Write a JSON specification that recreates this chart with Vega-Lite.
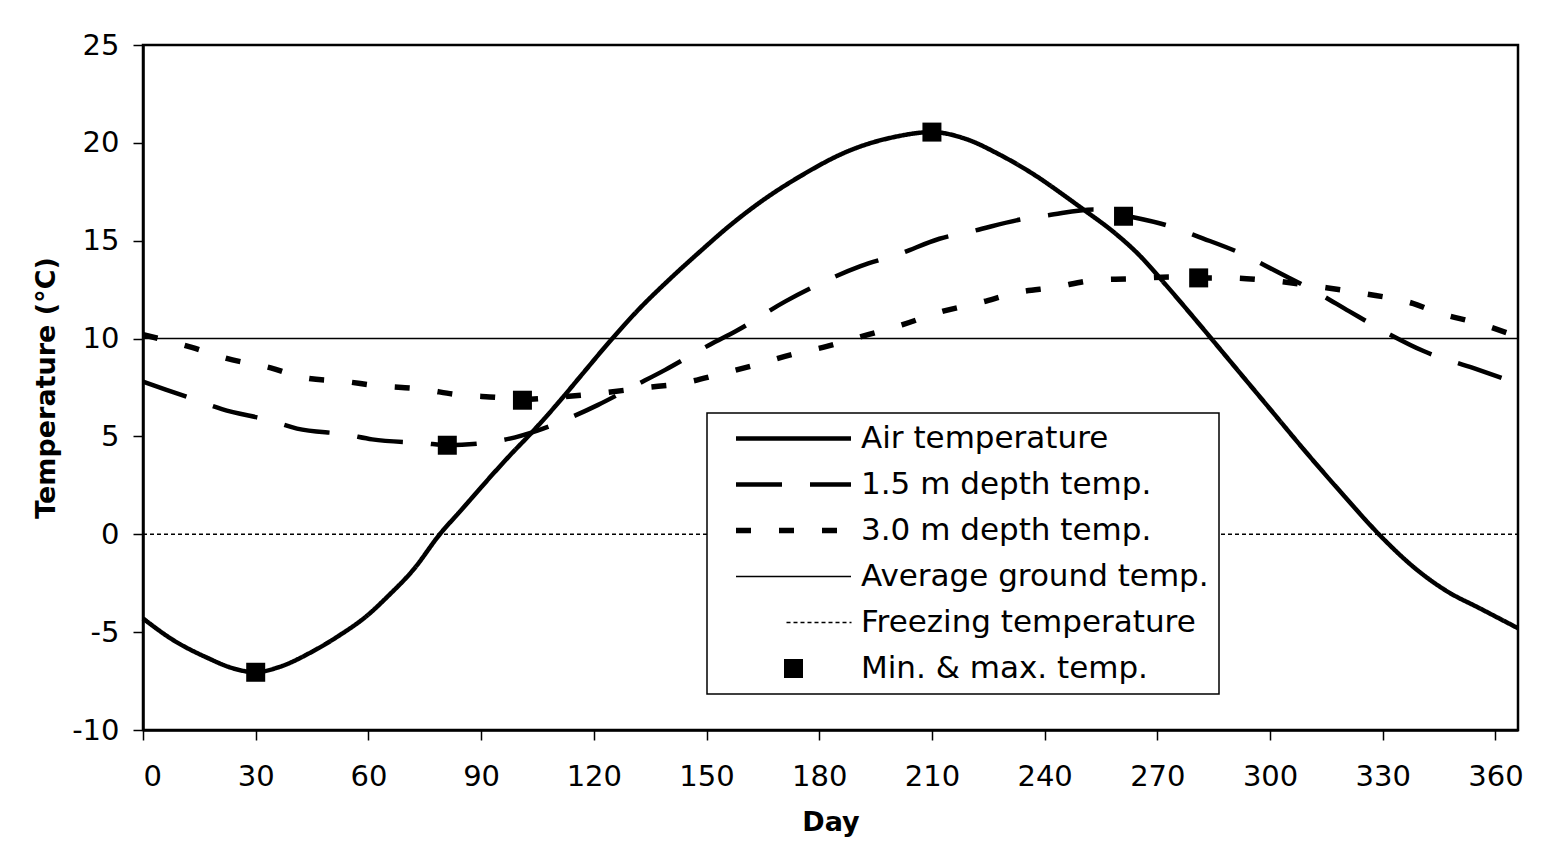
{
  "$schema": "https://vega.github.io/schema/vega-lite/v6.json",
  "width": 1375,
  "height": 685,
  "autosize": "none",
  "padding": {"left": 143, "top": 45, "right": 43, "bottom": 115},
  "background": "white",
  "config": {
    "view": {"stroke": "black", "strokeWidth": 2.5},
    "font": "DejaVu Sans",
    "axis": {
      "labelFont": "DejaVu Sans", "labelFontSize": 29, "labelColor": "black",
      "titleFont": "DejaVu Sans", "titleFontSize": 27, "titleFontWeight": "bold", "titleColor": "black",
      "domainColor": "black", "domainWidth": 2.5, "tickColor": "black", "tickWidth": 1.5, "tickSize": 10, "grid": false
    },
    "legend": {
      "orient": "none", "legendX": 564, "legendY": 368,
      "fillColor": "white", "strokeColor": "black", "strokeWidth": 1.5,
      "padding": 10, "symbolOffset": 61, "symbolSize": 100,
      "labelFont": "DejaVu Sans", "labelFontSize": 31, "labelColor": "black", "labelOffset": 52, "labelLimit": 0,
      "rowPadding": 14, "symbolStrokeColor": "black"
    }
  },
  "datasets": {
    "lines": [
      {"series": "Air temperature", "day": 0, "temp": -4.3},
      {"series": "Air temperature", "day": 8, "temp": -5.4},
      {"series": "Air temperature", "day": 17, "temp": -6.3},
      {"series": "Air temperature", "day": 24, "temp": -6.85},
      {"series": "Air temperature", "day": 30, "temp": -7.05},
      {"series": "Air temperature", "day": 36, "temp": -6.8},
      {"series": "Air temperature", "day": 45, "temp": -6.0},
      {"series": "Air temperature", "day": 52, "temp": -5.2},
      {"series": "Air temperature", "day": 60, "temp": -4.1},
      {"series": "Air temperature", "day": 65, "temp": -3.2},
      {"series": "Air temperature", "day": 72, "temp": -1.8},
      {"series": "Air temperature", "day": 79, "temp": 0.0},
      {"series": "Air temperature", "day": 85, "temp": 1.3},
      {"series": "Air temperature", "day": 90, "temp": 2.4},
      {"series": "Air temperature", "day": 98, "temp": 4.1},
      {"series": "Air temperature", "day": 103, "temp": 5.1},
      {"series": "Air temperature", "day": 110, "temp": 6.6},
      {"series": "Air temperature", "day": 117, "temp": 8.2},
      {"series": "Air temperature", "day": 124, "temp": 9.8},
      {"series": "Air temperature", "day": 132, "temp": 11.5},
      {"series": "Air temperature", "day": 140, "temp": 13.0},
      {"series": "Air temperature", "day": 148, "temp": 14.4},
      {"series": "Air temperature", "day": 157, "temp": 15.9},
      {"series": "Air temperature", "day": 166, "temp": 17.2},
      {"series": "Air temperature", "day": 175, "temp": 18.3},
      {"series": "Air temperature", "day": 188, "temp": 19.6},
      {"series": "Air temperature", "day": 200, "temp": 20.3},
      {"series": "Air temperature", "day": 210, "temp": 20.55},
      {"series": "Air temperature", "day": 219, "temp": 20.2},
      {"series": "Air temperature", "day": 228, "temp": 19.4},
      {"series": "Air temperature", "day": 237, "temp": 18.4},
      {"series": "Air temperature", "day": 246, "temp": 17.2},
      {"series": "Air temperature", "day": 251, "temp": 16.5},
      {"series": "Air temperature", "day": 258, "temp": 15.5},
      {"series": "Air temperature", "day": 265, "temp": 14.3},
      {"series": "Air temperature", "day": 272, "temp": 12.8},
      {"series": "Air temperature", "day": 280, "temp": 11.0},
      {"series": "Air temperature", "day": 290, "temp": 8.7},
      {"series": "Air temperature", "day": 300, "temp": 6.4},
      {"series": "Air temperature", "day": 310, "temp": 4.1},
      {"series": "Air temperature", "day": 320, "temp": 1.9},
      {"series": "Air temperature", "day": 330, "temp": -0.2},
      {"series": "Air temperature", "day": 339, "temp": -1.8},
      {"series": "Air temperature", "day": 347, "temp": -2.9},
      {"series": "Air temperature", "day": 356, "temp": -3.8},
      {"series": "Air temperature", "day": 366, "temp": -4.8},

      {"series": "1.5 m depth temp.", "day": 0, "temp": 7.8},
      {"series": "1.5 m depth temp.", "day": 12, "temp": 7.0},
      {"series": "1.5 m depth temp.", "day": 21, "temp": 6.4},
      {"series": "1.5 m depth temp.", "day": 34, "temp": 5.8},
      {"series": "1.5 m depth temp.", "day": 41, "temp": 5.4},
      {"series": "1.5 m depth temp.", "day": 54, "temp": 5.1},
      {"series": "1.5 m depth temp.", "day": 61, "temp": 4.85},
      {"series": "1.5 m depth temp.", "day": 75, "temp": 4.65},
      {"series": "1.5 m depth temp.", "day": 81, "temp": 4.55},
      {"series": "1.5 m depth temp.", "day": 94, "temp": 4.75},
      {"series": "1.5 m depth temp.", "day": 105, "temp": 5.3},
      {"series": "1.5 m depth temp.", "day": 113, "temp": 5.9},
      {"series": "1.5 m depth temp.", "day": 121, "temp": 6.6},
      {"series": "1.5 m depth temp.", "day": 131, "temp": 7.6},
      {"series": "1.5 m depth temp.", "day": 139, "temp": 8.4},
      {"series": "1.5 m depth temp.", "day": 151, "temp": 9.7},
      {"series": "1.5 m depth temp.", "day": 158, "temp": 10.4},
      {"series": "1.5 m depth temp.", "day": 171, "temp": 11.9},
      {"series": "1.5 m depth temp.", "day": 178, "temp": 12.6},
      {"series": "1.5 m depth temp.", "day": 191, "temp": 13.7},
      {"series": "1.5 m depth temp.", "day": 201, "temp": 14.3},
      {"series": "1.5 m depth temp.", "day": 212, "temp": 15.1},
      {"series": "1.5 m depth temp.", "day": 221, "temp": 15.5},
      {"series": "1.5 m depth temp.", "day": 234, "temp": 16.1},
      {"series": "1.5 m depth temp.", "day": 241, "temp": 16.3},
      {"series": "1.5 m depth temp.", "day": 253, "temp": 16.6},
      {"series": "1.5 m depth temp.", "day": 261, "temp": 16.3},
      {"series": "1.5 m depth temp.", "day": 274, "temp": 15.7},
      {"series": "1.5 m depth temp.", "day": 281, "temp": 15.2},
      {"series": "1.5 m depth temp.", "day": 294, "temp": 14.2},
      {"series": "1.5 m depth temp.", "day": 301, "temp": 13.5},
      {"series": "1.5 m depth temp.", "day": 313, "temp": 12.3},
      {"series": "1.5 m depth temp.", "day": 321, "temp": 11.4},
      {"series": "1.5 m depth temp.", "day": 332, "temp": 10.2},
      {"series": "1.5 m depth temp.", "day": 341, "temp": 9.35},
      {"series": "1.5 m depth temp.", "day": 354, "temp": 8.5},
      {"series": "1.5 m depth temp.", "day": 366, "temp": 7.7},

      {"series": "3.0 m depth temp.", "day": 0, "temp": 10.2},
      {"series": "3.0 m depth temp.", "day": 13, "temp": 9.55},
      {"series": "3.0 m depth temp.", "day": 22, "temp": 9.0},
      {"series": "3.0 m depth temp.", "day": 34, "temp": 8.5},
      {"series": "3.0 m depth temp.", "day": 43, "temp": 8.0},
      {"series": "3.0 m depth temp.", "day": 54, "temp": 7.8},
      {"series": "3.0 m depth temp.", "day": 62, "temp": 7.6},
      {"series": "3.0 m depth temp.", "day": 75, "temp": 7.4},
      {"series": "3.0 m depth temp.", "day": 83, "temp": 7.15},
      {"series": "3.0 m depth temp.", "day": 94, "temp": 7.0},
      {"series": "3.0 m depth temp.", "day": 101, "temp": 6.9},
      {"series": "3.0 m depth temp.", "day": 110, "temp": 7.0},
      {"series": "3.0 m depth temp.", "day": 119, "temp": 7.15},
      {"series": "3.0 m depth temp.", "day": 134, "temp": 7.5},
      {"series": "3.0 m depth temp.", "day": 143, "temp": 7.7},
      {"series": "3.0 m depth temp.", "day": 154, "temp": 8.2},
      {"series": "3.0 m depth temp.", "day": 162, "temp": 8.6},
      {"series": "3.0 m depth temp.", "day": 173, "temp": 9.2},
      {"series": "3.0 m depth temp.", "day": 182, "temp": 9.6},
      {"series": "3.0 m depth temp.", "day": 193, "temp": 10.2},
      {"series": "3.0 m depth temp.", "day": 202, "temp": 10.7},
      {"series": "3.0 m depth temp.", "day": 213, "temp": 11.4},
      {"series": "3.0 m depth temp.", "day": 222, "temp": 11.8},
      {"series": "3.0 m depth temp.", "day": 234, "temp": 12.4},
      {"series": "3.0 m depth temp.", "day": 242, "temp": 12.6},
      {"series": "3.0 m depth temp.", "day": 254, "temp": 13.0},
      {"series": "3.0 m depth temp.", "day": 262, "temp": 13.05},
      {"series": "3.0 m depth temp.", "day": 274, "temp": 13.15},
      {"series": "3.0 m depth temp.", "day": 281, "temp": 13.1},
      {"series": "3.0 m depth temp.", "day": 289, "temp": 13.1},
      {"series": "3.0 m depth temp.", "day": 298, "temp": 13.0},
      {"series": "3.0 m depth temp.", "day": 315, "temp": 12.6},
      {"series": "3.0 m depth temp.", "day": 325, "temp": 12.3},
      {"series": "3.0 m depth temp.", "day": 338, "temp": 11.8},
      {"series": "3.0 m depth temp.", "day": 345, "temp": 11.3},
      {"series": "3.0 m depth temp.", "day": 355, "temp": 10.8},
      {"series": "3.0 m depth temp.", "day": 366, "temp": 10.1},

      {"series": "Average ground temp.", "day": 0, "temp": 10},
      {"series": "Average ground temp.", "day": 366, "temp": 10},
      {"series": "Freezing temperature", "day": 0, "temp": 0},
      {"series": "Freezing temperature", "day": 366, "temp": 0}
    ],
    "markers": [
      {"series": "Min. & max. temp.", "day": 30, "temp": -7.05},
      {"series": "Min. & max. temp.", "day": 210, "temp": 20.55},
      {"series": "Min. & max. temp.", "day": 81, "temp": 4.55},
      {"series": "Min. & max. temp.", "day": 261, "temp": 16.25},
      {"series": "Min. & max. temp.", "day": 101, "temp": 6.85},
      {"series": "Min. & max. temp.", "day": 281, "temp": 13.1}
    ]
  },
  "encoding": {
    "x": {
      "field": "day", "type": "quantitative",
      "scale": {"domain": [0, 366], "nice": false, "zero": false},
      "axis": {"title": "Day", "values": [0, 30, 60, 90, 120, 150, 180, 210, 240, 270, 300, 330, 360], "labelPadding": 22, "titlePadding": 18}
    },
    "y": {
      "field": "temp", "type": "quantitative",
      "scale": {"domain": [-10, 25], "nice": false},
      "axis": {"title": "Temperature (°C)", "values": [-10, -5, 0, 5, 10, 15, 20, 25], "labelExpr": "toString(datum.value)", "labelPadding": 14, "titleX": -83}
    }
  },
  "layer": [
    {
      "data": {"name": "lines"},
      "mark": {"type": "line", "color": "black", "interpolate": "monotone"},
      "encoding": {
        "strokeDash": {
          "field": "series", "type": "nominal",
          "scale": {
            "domain": ["Air temperature", "1.5 m depth temp.", "3.0 m depth temp.", "Average ground temp.", "Freezing temperature", "Min. & max. temp."],
            "range": [[1, 0], [46, 28], [15, 28], [1, 0], [4, 3], [1, 0]]
          },
          "legend": {"title": null, "encode": {"symbols": {"update": {"stroke": {"value": "black"}}}}}
        },
        "strokeWidth": {
          "field": "series", "type": "nominal",
          "scale": {
            "type": "ordinal",
            "domain": ["Air temperature", "1.5 m depth temp.", "3.0 m depth temp.", "Average ground temp.", "Freezing temperature", "Min. & max. temp."],
            "range": [4.5, 4.5, 5.5, 1.5, 1.5, 0]
          },
          "legend": {"title": null, "encode": {"symbols": {"update": {"stroke": {"value": "black"}}}}}
        }
      }
    },
    {
      "data": {"name": "markers"},
      "mark": {"type": "point", "filled": true, "opacity": 1, "size": 100},
      "encoding": {
        "shape": {
          "field": "series", "type": "nominal",
          "scale": {
            "domain": ["Air temperature", "1.5 m depth temp.", "3.0 m depth temp.", "Average ground temp.", "Freezing temperature", "Min. & max. temp."],
            "range": ["M-11.5,0H11.5", "M-11.5,0H11.5", "M-11.5,0H11.5", "M-11.5,0H11.5", "M-1.4,0H11.6", "M-1.9,-1.9H1.9V1.9H-1.9Z"]
          },
          "legend": {"title": null, "encode": {"symbols": {"update": {"stroke": {"value": "black"}}}}}
        },
        "fill": {
          "field": "series", "type": "nominal",
          "scale": {
            "domain": ["Air temperature", "1.5 m depth temp.", "3.0 m depth temp.", "Average ground temp.", "Freezing temperature", "Min. & max. temp."],
            "range": ["transparent", "transparent", "transparent", "transparent", "transparent", "black"]
          },
          "legend": {"title": null, "encode": {"symbols": {"update": {"stroke": {"value": "black"}}}}}
        }
      }
    }
  ]
}
